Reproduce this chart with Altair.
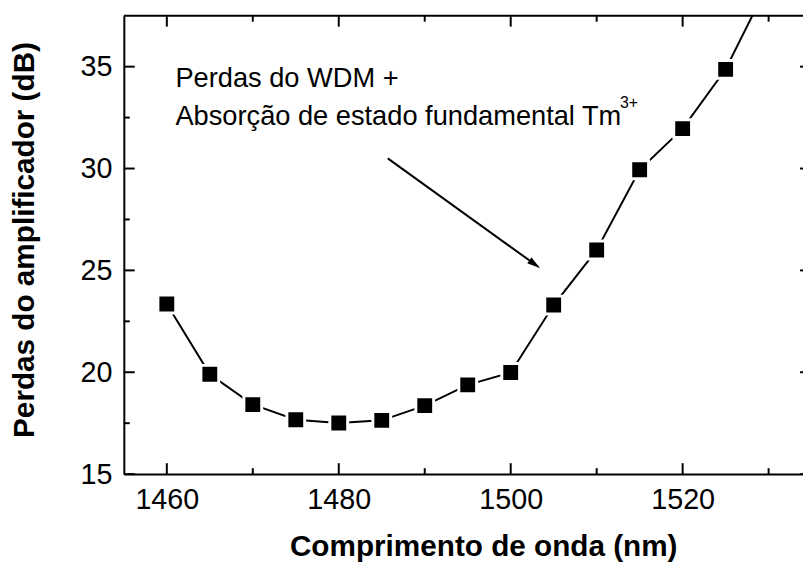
import math
import altair as alt
import pandas as pd

# ---------------- data ----------------
wavelength = [1460, 1465, 1470, 1475, 1480, 1485, 1490, 1495, 1500,
              1505, 1510, 1515, 1520, 1525, 1530]
loss_db = [23.35, 19.90, 18.41, 17.67, 17.51, 17.64, 18.36, 19.38, 19.99,
           23.30, 26.00, 29.94, 31.96, 34.87, 39.10]

x_major = [1460, 1480, 1500, 1520]
x_minor = [1470, 1490, 1510, 1530]
y_major = [15, 20, 25, 30, 35]
y_minor = [17.5, 22.5, 27.5, 32.5]

note_lines = ["Perdas do WDM +", "Absorção de estado fundamental Tm"]
note_x = [1461.0, 1461.0]
note_y = [34.0, 32.15]
sup_text = ["3+"]
sup_x = [1512.7]
sup_y = [32.95]

arrow_x = [1485.7, 1502.8]
arrow_y = [30.5, 25.3]

# ---------------- layout ----------------
W, H = 686, 463
X_DOM = [1455, 1534]
Y_DOM = [15, 37.5]
FONT = "Liberation Sans"

xs = alt.Scale(domain=X_DOM, nice=False, zero=False)
ys = alt.Scale(domain=Y_DOM, nice=False, zero=False)

df = pd.DataFrame({"wavelength": wavelength, "loss": loss_db})

x_axis = alt.Axis(values=x_major, format="d", ticks=False, grid=False,
                  domainColor="black", domainWidth=2,
                  labelFont=FONT, labelFontSize=29, labelColor="black",
                  labelPadding=12,
                  title="Comprimento de onda (nm)", titleFont=FONT,
                  titleFontSize=30, titleFontWeight="bold", titleColor="black",
                  titleBaseline="alphabetic", titleX=363, titleY=82)
y_axis = alt.Axis(values=y_major, format="d", ticks=False, grid=False,
                  domainColor="black", domainWidth=2,
                  labelFont=FONT, labelFontSize=29, labelColor="black",
                  labelPadding=12,
                  title="Perdas do amplificador (dB)", titleFont=FONT,
                  titleFontSize=30, titleFontWeight="bold", titleColor="black",
                  titleBaseline="bottom", titleX=-85, titleY=226, titleAngle=270)

line = alt.Chart(df).mark_line(color="black", strokeWidth=2, clip=True).encode(
    x=alt.X("wavelength:Q", scale=xs, axis=x_axis),
    y=alt.Y("loss:Q", scale=ys, axis=y_axis),
)
pts = alt.Chart(df).mark_point(shape="square", filled=True, fill="black",
                               stroke="white", strokeWidth=3, size=324,
                               opacity=1, clip=True).encode(
    x=alt.X("wavelength:Q", scale=xs),
    y=alt.Y("loss:Q", scale=ys),
)

def xticks(vals, length, top):
    d = pd.DataFrame({"v": vals})
    if top:
        yy, yy2 = alt.value(0), alt.value(length)
    else:
        yy, yy2 = alt.value(H), alt.value(H - length)
    return alt.Chart(d).mark_rule(color="black", strokeWidth=2).encode(
        x=alt.X("v:Q", scale=xs), y=yy, y2=yy2)

def yticks(vals, length, right):
    d = pd.DataFrame({"v": vals})
    if right:
        xx, xx2 = alt.value(W - length), alt.value(W)
    else:
        xx, xx2 = alt.value(0), alt.value(length)
    return alt.Chart(d).mark_rule(color="black", strokeWidth=2).encode(
        y=alt.Y("v:Q", scale=ys), x=xx, x2=xx2)

top_line = alt.Chart(pd.DataFrame({"k": [0]})).mark_rule(
    color="black", strokeWidth=2).encode(
    x=alt.value(0), x2=alt.value(W), y=alt.value(0))

ticks = [
    xticks(x_major, 11, False), xticks(x_minor, 6, False),
    xticks(x_major, 11, True), xticks(x_minor, 6, True),
    yticks(y_major, 11, False), yticks(y_minor, 6, False),
    yticks(y_major, 3, True),
]

notes = alt.Chart(pd.DataFrame({"t": note_lines, "x": note_x, "y": note_y})).mark_text(
    align="left", baseline="alphabetic", font=FONT, fontSize=27.5, color="black"
).encode(x=alt.X("x:Q", scale=xs), y=alt.Y("y:Q", scale=ys), text="t:N")

sup = alt.Chart(pd.DataFrame({"t": sup_text, "x": sup_x, "y": sup_y})).mark_text(
    align="left", baseline="alphabetic", font=FONT, fontSize=16, color="black"
).encode(x=alt.X("x:Q", scale=xs), y=alt.Y("y:Q", scale=ys), text="t:N")

adf = pd.DataFrame({"x": arrow_x, "y": arrow_y})
arrow_line = alt.Chart(adf).mark_line(color="black", strokeWidth=2).encode(
    x=alt.X("x:Q", scale=xs), y=alt.Y("y:Q", scale=ys))

px_x = W / (X_DOM[1] - X_DOM[0])
px_y = H / (Y_DOM[1] - Y_DOM[0])
ang = math.degrees(math.atan2((arrow_y[0] - arrow_y[1]) * px_y,
                              (arrow_x[1] - arrow_x[0]) * px_x)) + 90
head = alt.Chart(adf.iloc[[1]]).mark_point(
    shape="M0,-1L0.55,1L-0.55,1Z", filled=True, fill="black", stroke=None,
    size=180, angle=ang, opacity=1).encode(
    x=alt.X("x:Q", scale=xs), y=alt.Y("y:Q", scale=ys))

chart = alt.layer(line, pts, top_line, *ticks, notes, sup, arrow_line, head).properties(
    width=W, height=H,
    padding={"left": 117, "top": 5, "right": 0, "bottom": 90},
    autosize=alt.AutoSizeParams(type="none"),
    background="white",
).configure_view(stroke=None)

chart.save("out.html", embed_options={"renderer": "svg", "actions": False})
